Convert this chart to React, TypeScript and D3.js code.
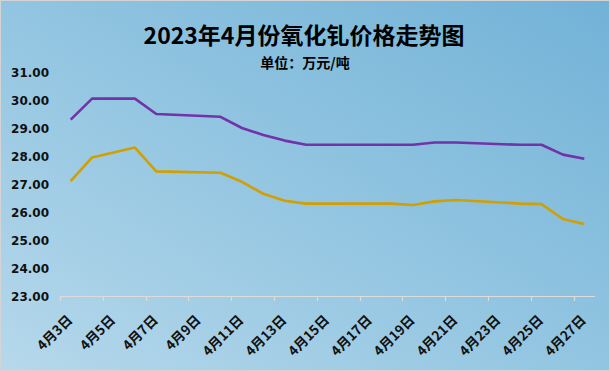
import React, { useEffect, useRef } from "react";
import * as d3 from "d3";

const W = 610;
const H = 371;

// trading days in April 2023
const days = [3, 4, 6, 7, 10, 11, 12, 13, 14, 17, 18, 19, 20, 21, 24, 25, 26, 27];
const purple = [29.3, 30.05, 30.05, 29.5, 29.4, 29.0, 28.75, 28.55, 28.4, 28.4, 28.4, 28.4, 28.48, 28.48, 28.4, 28.4, 28.05, 27.9];
const gold = [27.1, 27.95, 28.3, 27.45, 27.4, 27.08, 26.65, 26.4, 26.3, 26.3, 26.3, 26.25, 26.38, 26.43, 26.3, 26.28, 25.75, 25.57];
const labelDays = [3, 5, 7, 9, 11, 13, 15, 17, 19, 21, 23, 25, 27];
const yTicks = [23, 24, 25, 26, 27, 28, 29, 30, 31];

const App = () => {
  const ref = useRef<SVGSVGElement>(null);

  useEffect(() => {
    const svg = d3.select(ref.current);
    svg.selectAll("*").remove();

    const x = d3.scaleLinear().domain([2.5, 27.5]).range([60, 595]);
    const y = d3.scaleLinear().domain([23, 31]).range([296, 72]);

    const defs = svg.append("defs");
    const grad = defs.append("linearGradient")
      .attr("id", "bg")
      .attr("x1", 0).attr("y1", 1).attr("x2", 1).attr("y2", 0);
    grad.append("stop").attr("offset", "0%").attr("stop-color", "#b6d8eb");
    grad.append("stop").attr("offset", "50%").attr("stop-color", "#92c5e1");
    grad.append("stop").attr("offset", "100%").attr("stop-color", "#72b2d7");

    svg.append("rect")
      .attr("x", 0.5).attr("y", 0.5)
      .attr("width", W - 1).attr("height", H - 1)
      .attr("fill", "url(#bg)")
      .attr("stroke", "#d4d4d4");

    svg.append("text")
      .attr("x", 304).attr("y", 44)
      .attr("text-anchor", "middle")
      .style("font-family", "'Noto Sans CJK SC', sans-serif")
      .style("font-weight", "bold")
      .style("font-size", "23px")
      .text("2023年4月份氧化钆价格走势图");

    svg.append("text")
      .attr("x", 305).attr("y", 68)
      .attr("text-anchor", "middle")
      .style("font-family", "'Noto Sans CJK SC', sans-serif")
      .style("font-weight", "bold")
      .style("font-size", "14px")
      .text("单位：万元/吨");

    // y labels
    svg.append("g").selectAll("text")
      .data(yTicks)
      .join("text")
      .attr("x", 49)
      .attr("y", (d) => y(d) + 4.5)
      .attr("text-anchor", "end")
      .style("font-family", "'DejaVu Sans', sans-serif")
      .style("font-weight", "bold")
      .style("font-size", "12px")
      .attr("fill", "#111")
      .text((d) => d3.format(".2f")(d));

    // x axis
    const ax = svg.append("g");
    ax.append("line")
      .attr("x1", x(2.5)).attr("x2", x(27.5))
      .attr("y1", 296.5).attr("y2", 296.5)
      .attr("stroke", "#dcdcdc").attr("stroke-width", 1.2);
    ax.selectAll("line.tick")
      .data(labelDays)
      .join("line")
      .attr("class", "tick")
      .attr("x1", (d) => Math.round(x(d - 0.5)) + 0.5)
      .attr("x2", (d) => Math.round(x(d - 0.5)) + 0.5)
      .attr("y1", 296).attr("y2", 301)
      .attr("stroke", "#dcdcdc").attr("stroke-width", 1.2);
    ax.selectAll("text")
      .data(labelDays)
      .join("text")
      .attr("transform", (d) => `translate(${x(d) + 2.5},${321}) rotate(-45)`)
      .attr("text-anchor", "end")
      .style("font-family", "'Noto Sans CJK SC', sans-serif")
      .style("font-weight", "bold")
      .style("font-size", "13.5px")
      .attr("fill", "#111")
      .text((d) => `4月${d}日`);

    const line = d3.line<number>()
      .x((_, i) => x(days[i]))
      .y((d) => y(d));

    svg.append("path")
      .attr("d", line(purple))
      .attr("fill", "none")
      .attr("stroke", "#7232a8")
      .attr("stroke-width", 2.6)
      .attr("stroke-linejoin", "round");

    svg.append("path")
      .attr("d", line(gold))
      .attr("fill", "none")
      .attr("stroke", "#d29f00")
      .attr("stroke-width", 2.6)
      .attr("stroke-linejoin", "round");
  }, []);

  return (
    <div style={{ position: "fixed", left: 0, top: 0 }}>
      <svg ref={ref} width={W} height={H} style={{ display: "block" }} />
    </div>
  );
};

export default App;
